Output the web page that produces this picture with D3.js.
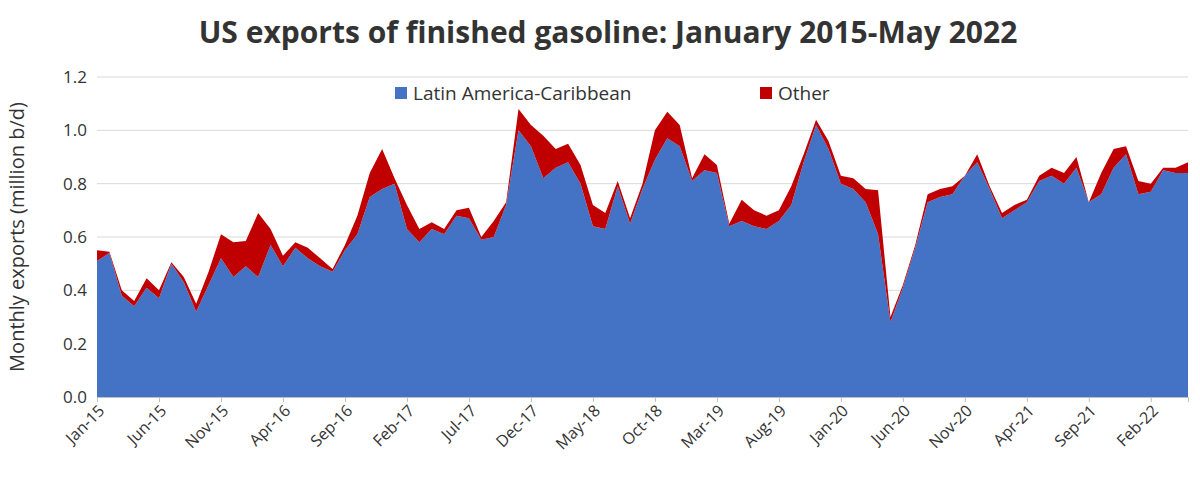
<!DOCTYPE html>
<html><head><meta charset="utf-8">
<script src="https://cdn.jsdelivr.net/npm/d3@7"></script>
<style>body{margin:0;background:#fff;font-family:"Open Sans",sans-serif}</style>
</head><body><div id="chart"></div>
<script>
const months = [];
const mn = ["Jan","Feb","Mar","Apr","May","Jun","Jul","Aug","Sep","Oct","Nov","Dec"];
for (let y = 15; y <= 22; y++) for (let m = 0; m < 12; m++) { if (y === 22 && m > 4) break; months.push(mn[m] + "-" + y); }

const latam = [0.51,0.54,0.38,0.34,0.41,0.37,0.50,0.43,0.32,0.42,0.52,0.45,
  0.49,0.45,0.57,0.49,0.56,0.52,0.49,0.47,0.55,0.61,0.75,0.78,
  0.80,0.63,0.58,0.63,0.61,0.68,0.67,0.59,0.60,0.72,1.00,0.94,
  0.82,0.86,0.88,0.80,0.64,0.63,0.79,0.65,0.78,0.89,0.97,0.94,
  0.81,0.85,0.84,0.64,0.66,0.64,0.63,0.66,0.72,0.88,1.02,0.93,
  0.80,0.78,0.73,0.61,0.28,0.41,0.56,0.73,0.75,0.76,0.83,0.88,
  0.78,0.67,0.70,0.73,0.81,0.83,0.80,0.86,0.73,0.76,0.86,0.91,
  0.76,0.77,0.85,0.84,0.84];
const other = [0.04,0.005,0.02,0.02,0.035,0.03,0.005,0.02,0.03,0.05,0.09,0.13,
  0.095,0.24,0.06,0.04,0.02,0.04,0.03,0.01,0.02,0.07,0.09,0.15,
  0.02,0.09,0.05,0.025,0.02,0.02,0.04,0.01,0.06,0.01,0.08,0.08,
  0.16,0.07,0.07,0.07,0.08,0.06,0.02,0.02,0.02,0.11,0.10,0.08,
  0.01,0.06,0.03,0.01,0.08,0.06,0.05,0.04,0.07,0.03,0.02,0.03,
  0.03,0.04,0.05,0.165,0.02,0.01,0.01,0.03,0.03,0.03,0.0,0.03,
  0.01,0.02,0.02,0.01,0.02,0.03,0.04,0.04,0.0,0.08,0.07,0.03,
  0.05,0.03,0.01,0.02,0.04];
const yTicks = [0,0.2,0.4,0.6,0.8,1.0,1.2];

const W = 1200, H = 481;
const m = {left: 97, right: 12, top: 77, bottom: 84};
const svg = d3.select("#chart").append("svg").attr("width", W).attr("height", H);

const x = d3.scaleLinear().domain([0, months.length - 1]).range([m.left, W - m.right]);
const y = d3.scaleLinear().domain([0, 1.2]).range([H - m.bottom, m.top]);

svg.append("text").attr("x", W / 2 + 8).attr("y", 43).attr("text-anchor", "middle")
  .style("font-size", "30px").style("font-weight", "bold").attr("fill", "#333")
  .text("US exports of finished gasoline: January 2015-May 2022");

// gridlines
svg.append("g").selectAll("line").data(yTicks.slice(1)).join("line")
  .attr("x1", m.left).attr("x2", W - m.right)
  .attr("y1", d => y(d)).attr("y2", d => y(d))
  .attr("stroke", "#d9d9d9").attr("stroke-width", 1);

const data = months.map((d, i) => ({i, la: latam[i], ot: other[i]}));
const stack = d3.stack().keys(["la", "ot"])(data);
const colors = {la: "#4472C4", ot: "#C00000"};
const area = d3.area().x(d => x(d.data.i)).y0(d => y(d[0])).y1(d => y(d[1]));
svg.append("g").selectAll("path").data(stack).join("path")
  .attr("d", area).attr("fill", d => colors[d.key]);

// y axis labels
svg.append("g").selectAll("text").data(yTicks).join("text")
  .attr("x", m.left - 10).attr("y", d => y(d) + 6).attr("text-anchor", "end")
  .style("font-size", "17px").attr("fill", "#333").text(d => d.toFixed(1));

// x axis
const xAxis = svg.append("g").attr("transform", `translate(0,${H - m.bottom})`)
  .call(d3.axisBottom(x).tickValues(d3.range(0, months.length, 5)).tickFormat(i => months[i]).tickSize(5));
xAxis.select(".domain").attr("stroke", "#bfbfbf");
xAxis.selectAll(".tick line").attr("stroke", "#bfbfbf");
xAxis.selectAll("text").style("font-size", "16px").style("font-family", "Open Sans").attr("fill", "#333")
  .attr("text-anchor", "end").attr("transform", "rotate(-45)").attr("dx", "-0.3em").attr("dy", "0.5em");

svg.append("text").attr("transform", `translate(24,${(m.top + H - m.bottom) / 2}) rotate(-90)`)
  .attr("text-anchor", "middle").style("font-size", "20px").attr("fill", "#333")
  .text("Monthly exports (million b/d)");

// legend
const legend = [{k: "la", t: "Latin America-Caribbean", x: 395}, {k: "ot", t: "Other", x: 760}];
legend.forEach(l => {
  svg.append("rect").attr("x", l.x).attr("y", 87).attr("width", 12).attr("height", 12).attr("fill", colors[l.k]);
  svg.append("text").attr("x", l.x + 18).attr("y", 100).style("font-size", "19px").attr("fill", "#333").text(l.t);
});
</script></body></html>
